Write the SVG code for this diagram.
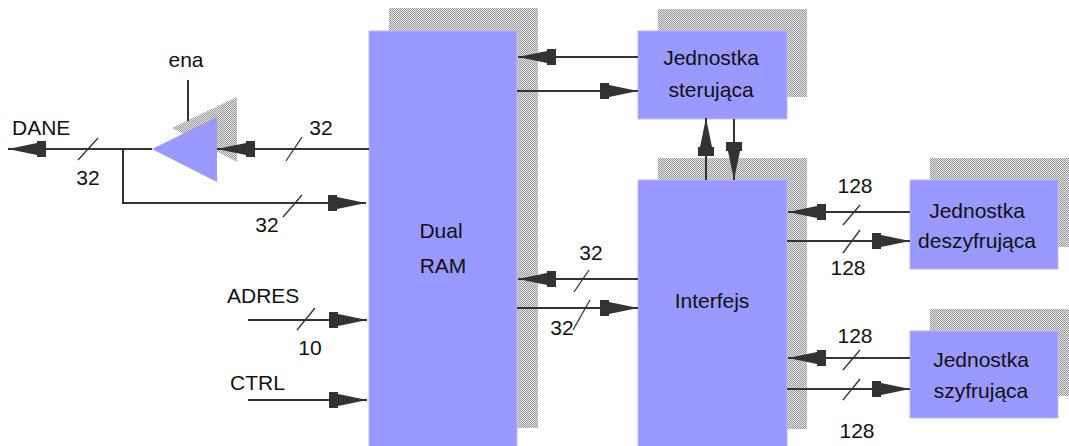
<svg xmlns="http://www.w3.org/2000/svg" width="1069" height="446" viewBox="0 0 1069 446">
<style>
.box{fill:#9999ff;stroke:#b8b8ff;stroke-width:1}
.sh{fill:url(#dither)}
.t{font-family:"Liberation Sans",Arial,sans-serif;font-size:21px;fill:#111}
.m{text-anchor:middle}
.ln{fill:none;stroke:#333;stroke-width:2}
.sl{stroke:#333;stroke-width:1.3}
</style>
<defs>
<pattern id="dither" patternUnits="userSpaceOnUse" width="2" height="2">
<rect width="2" height="2" fill="#e4e4e4"/>
<rect width="1" height="1" fill="#9a9a9a"/>
<rect x="1" y="1" width="1" height="1" fill="#9a9a9a"/>
</pattern>
<marker id="ah" markerUnits="userSpaceOnUse" viewBox="-39 -9 40 18" refX="0" refY="0" markerWidth="40" markerHeight="18" orient="auto">
<path d="M0,0 L-29,-6 L-29,-8 L-38,-8 L-38,8 L-29,8 L-29,6 Z" fill="#333"/>
</marker>
</defs>

<g id="shadows">
<rect class="sh" x="389" y="8" width="149" height="420"/>
<rect class="sh" x="658" y="9" width="149" height="88"/>
<rect class="sh" x="658" y="158" width="149" height="271"/>
<rect class="sh" x="930" y="158" width="148" height="89"/>
<rect class="sh" x="930" y="309" width="148" height="87"/>
<polygon class="sh" points="172,128 237,97 237,162"/>
</g>

<g id="dual-ram">
<rect class="box" x="369" y="31" width="148" height="420"/>
<text class="t m" x="441" y="238">Dual</text>
<text class="t m" x="443" y="273">RAM</text>
</g>

<g id="jednostka-sterujaca">
<rect class="box" x="638" y="31" width="149" height="88"/>
<text class="t m" x="711" y="65">Jednostka</text>
<text class="t m" x="711" y="97">sterująca</text>
</g>

<g id="interfejs">
<rect class="box" x="638" y="180" width="149" height="271"/>
<text class="t m" x="712" y="308">Interfejs</text>
</g>

<g id="jednostka-deszyfrujaca">
<rect class="box" x="910" y="180" width="148" height="89"/>
<text class="t m" x="977" y="218">Jednostka</text>
<text class="t m" x="977" y="248">deszyfrująca</text>
</g>

<g id="jednostka-szyfrujaca">
<rect class="box" x="910" y="331" width="148" height="87"/>
<text class="t m" x="981" y="367">Jednostka</text>
<text class="t m" x="981" y="398">szyfrująca</text>
</g>

<g id="buffer">
<polygon points="152,149 217,117 217,182" fill="#9999ff"/>
</g>

<g id="connectors">
<path class="ln" d="M152,149 L8,149" marker-end="url(#ah)"/>
<path class="ln" d="M123,149 L123,203 L366,203" marker-end="url(#ah)"/>
<path class="ln" d="M369,149 L217,149" marker-end="url(#ah)"/>
<path class="ln" d="M188,80 L188,121"/>
<path class="ln" d="M638,57 L518,57" marker-end="url(#ah)"/>
<path class="ln" d="M517,91 L638,91" marker-end="url(#ah)"/>
<path class="ln" d="M706,180 L706,118" marker-end="url(#ah)"/>
<path class="ln" d="M734,119 L734,180" marker-end="url(#ah)"/>
<path class="ln" d="M638,279 L518,279" marker-end="url(#ah)"/>
<path class="ln" d="M517,308 L638,308" marker-end="url(#ah)"/>
<path class="ln" d="M910,212 L788,212" marker-end="url(#ah)"/>
<path class="ln" d="M787,241 L910,241" marker-end="url(#ah)"/>
<path class="ln" d="M910,358 L788,358" marker-end="url(#ah)"/>
<path class="ln" d="M787,389 L910,389" marker-end="url(#ah)"/>
<path class="ln" d="M248,320 L367,320" marker-end="url(#ah)"/>
<path class="ln" d="M248,400 L367,400" marker-end="url(#ah)"/>
<line class="sl" x1="78" y1="160" x2="98" y2="138"/>
<line class="sl" x1="286" y1="161" x2="302" y2="137"/>
<line class="sl" x1="283" y1="217" x2="302" y2="195"/>
<line class="sl" x1="574" y1="292" x2="589" y2="270"/>
<line class="sl" x1="573" y1="330" x2="590" y2="300"/>
<line class="sl" x1="843" y1="225" x2="860" y2="205"/>
<line class="sl" x1="843" y1="253" x2="860" y2="230"/>
<line class="sl" x1="843" y1="370" x2="860" y2="350"/>
<line class="sl" x1="843" y1="400" x2="860" y2="379"/>
<line class="sl" x1="297" y1="330" x2="315" y2="308"/>
</g>

<g id="labels">
<text class="t m" x="186" y="67">ena</text>
<text class="t" x="12" y="135">DANE</text>
<text class="t m" x="88" y="185">32</text>
<text class="t m" x="321" y="135">32</text>
<text class="t m" x="267" y="232">32</text>
<text class="t m" x="591" y="260">32</text>
<text class="t m" x="562" y="335">32</text>
<text class="t m" x="855" y="193">128</text>
<text class="t m" x="848" y="275">128</text>
<text class="t m" x="855" y="343">128</text>
<text class="t m" x="857" y="438">128</text>
<text class="t" x="227" y="303">ADRES</text>
<text class="t m" x="310" y="355">10</text>
<text class="t" x="230" y="390">CTRL</text>
</g>
</svg>
